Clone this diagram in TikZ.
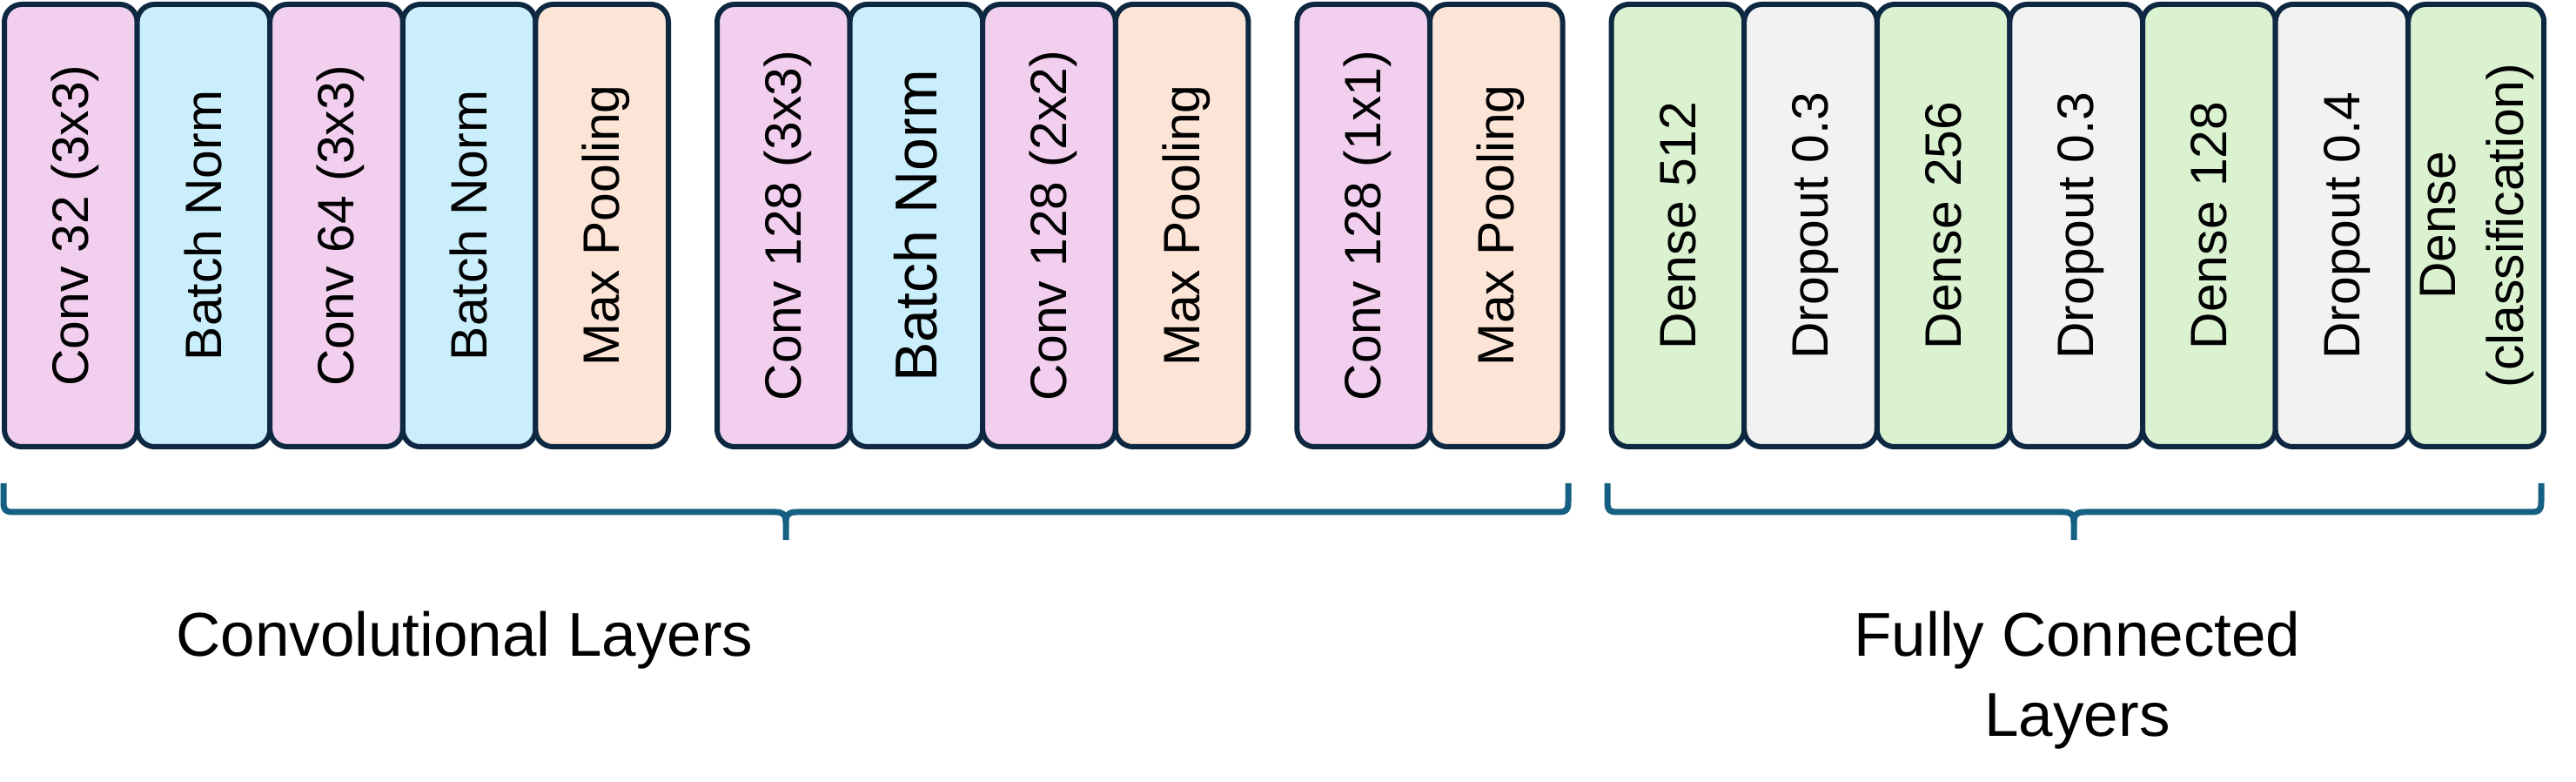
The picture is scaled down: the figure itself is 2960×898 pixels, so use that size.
\documentclass[tikz,border=0pt]{standalone}
\usepackage{fontspec}
\usepackage{graphicx}
\setmainfont{Liberation Sans}
\usetikzlibrary{positioning}

\definecolor{convpink}{RGB}{242,207,238}
\definecolor{normblue}{RGB}{202,238,251}
\definecolor{poolpeach}{RGB}{252,228,214}
\definecolor{densegreen}{RGB}{218,242,208}
\definecolor{dropgray}{RGB}{242,242,242}
\definecolor{edgenavy}{RGB}{14,40,65}
\definecolor{bracketblue}{RGB}{21,96,130}

% rotated label with a fixed strut, so every box centres the same way
\newcommand{\vlabel}[1]{\rotatebox{90}{\vrule height .9em depth .21em width 0pt #1}}

\tikzset{
    layer/.style={draw=edgenavy, line width=1.5pt, rounded corners=5pt,
        minimum width=38.15pt, minimum height=127pt,
        inner sep=0pt, outer sep=0pt, font=\fontsize{14.7}{19.5}\selectfont},
    conv/.style={layer, fill=convpink},
    norm/.style={layer, fill=normblue},
    pool/.style={layer, fill=poolpeach},
    dense/.style={layer, fill=densegreen},
    drop/.style={layer, fill=dropgray},
    bracket/.style={draw=bracketblue, line width=1.75pt, line join=round},
    grouplabel/.style={inner sep=0pt, font=\fontsize{17.75}{23}\selectfont, align=center}
}

\begin{document}
\begin{tikzpicture}[x=0.25pt, y=-0.25pt]
    \useasboundingbox (0,0) rectangle (2960,898);

    % convolutional part
    \node[conv] (conv1) at (81.3,259) {\vlabel{Conv 32 (3x3)}};
    \node[norm, right=0pt of conv1] (norm1) {\vlabel{Batch Norm}};
    \node[conv, right=0pt of norm1] (conv2) {\vlabel{Conv 64 (3x3)}};
    \node[norm, right=0pt of conv2] (norm2) {\vlabel{Batch Norm}};
    \node[pool, right=0pt of norm2] (pool1) {\vlabel{Max Pooling}};

    \node[conv, right=14pt of pool1] (conv3) {\vlabel{Conv 128 (3x3)}};
    \node[norm, right=0pt of conv3, font=\fontsize{17}{20}\selectfont] (norm3) {\vlabel{Batch Norm}};
    \node[conv, right=0pt of norm3] (conv4) {\vlabel{Conv 128 (2x2)}};
    \node[pool, right=0pt of conv4] (pool2) {\vlabel{Max Pooling}};

    \node[conv, right=14pt of pool2] (conv5) {\vlabel{Conv 128 (1x1)}};
    \node[pool, right=0pt of conv5] (pool3) {\vlabel{Max Pooling}};

    % fully connected part
    \node[dense, right=14pt of pool3] (dense1) {\vlabel{Dense 512}};
    \node[drop, right=0pt of dense1] (drop1) {\vlabel{Dropout 0.3}};
    \node[dense, right=0pt of drop1] (dense2) {\vlabel{Dense 256}};
    \node[drop, right=0pt of dense2] (drop2) {\vlabel{Dropout 0.3}};
    \node[dense, right=0pt of drop2] (dense3) {\vlabel{Dense 128}};
    \node[drop, right=0pt of dense3] (drop3) {\vlabel{Dropout 0.4}};
    \node[dense, right=0pt of drop3] (dense4)
        {\rotatebox{90}{\begin{tabular}{@{}c@{}}Dense\\(classification)\end{tabular}}};

    % braces under the two parts
    \draw[bracket] (4,555) -- (4,576) .. controls (4,586) and (6,588) .. (16,588)
        -- (891,588) .. controls (900,588) and (903,591) .. (903,600) -- (903,620);
    \draw[bracket] (903,600) .. controls (903,591) and (906,588) .. (915,588)
        -- (1790,588) .. controls (1800,588) and (1802,586) .. (1802,576) -- (1802,555);
    \draw[bracket] (1847,555) -- (1847,576) .. controls (1847,586) and (1849,588) .. (1859,588)
        -- (2371,588) .. controls (2380,588) and (2383,591) .. (2383,600) -- (2383,620);
    \draw[bracket] (2383,600) .. controls (2383,591) and (2386,588) .. (2395,588)
        -- (2908,588) .. controls (2918,588) and (2920,586) .. (2920,576) -- (2920,555);

    \node[grouplabel, anchor=base] (convtext) at (534,753) {Convolutional Layers};
    \node[grouplabel, anchor=north] (fctext) at (2387,701) {Fully Connected\\Layers};
\end{tikzpicture}
\end{document}
